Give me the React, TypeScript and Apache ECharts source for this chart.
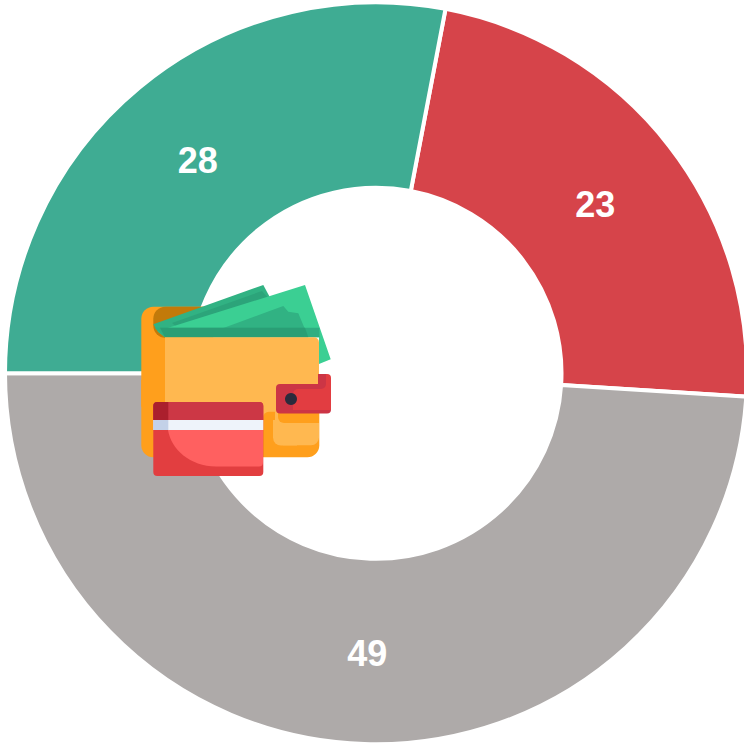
import React, { useEffect, useRef } from "react";
import * as echarts from "echarts";

const categories = ["Red", "Grey", "Green"];
const values = [23, 49, 28];
const colors = ["#D6444A", "#AEAAA9", "#3FAC93"];
const labelOffsets = [[-3, 4], [0, -1], [1, 4]];

echarts.graphic.registerShape(
  "cardLight",
  echarts.graphic.extendPath("M168 430 C171 449 190 466.5 216 466.5 L259 466.5 Q263 466.5 263 462 L263 430 Z", {})
);

const rect = (x: number, y: number, w: number, h: number, fill: string, r: any = 0) => ({
  type: "rect", z: 100, shape: { x, y, width: w, height: h, r }, style: { fill },
});
const poly = (points: number[][], fill: string) => ({
  type: "polygon", z: 100, shape: { points }, style: { fill },
});

const ORANGE = "#FF9F1C";
const YELLOW = "#FFB850";
const wallet = [
  rect(141.3, 306.7, 62, 100, ORANGE, [12, 0, 0, 0]),
  rect(141.3, 380, 178, 77.3, ORANGE, [0, 0, 12, 12]),
  rect(153.3, 306.7, 60, 31, "#C27A0A", [12, 0, 0, 12]),
  poly([[153.3, 324.3], [263.3, 285], [270, 297.5], [270, 337.3], [165, 337.3], [158, 332]], "#31B283"),
  poly([[172, 323], [262, 291], [268, 298], [178, 328]], "#2CA47A"),
  poly([[305, 285], [330.7, 359.3], [319, 364], [319, 337.3], [165, 337.3], [158, 331]], "#3BCF93"),
  poly([[198.3, 337.3], [283.3, 306], [288.3, 311.7], [298.3, 313.3], [308.3, 337.3]], "#31B283"),
  poly([[154.5, 327.7], [319.5, 327.7], [319.5, 337.3], [165, 337.3]], "#2FAE81"),
  poly([[160, 327.7], [305, 327.7], [308.3, 337.3], [165, 337.3]], "#2A9E75"),
  rect(165, 337.3, 154, 108, YELLOW, [0, 5, 8, 0]),
  rect(263, 411.7, 12, 34, ORANGE, [6, 0, 0, 0]),
  rect(263, 432, 20, 14, ORANGE),
  rect(273, 420, 24, 25.6, YELLOW, [0, 0, 0, 8]),
  rect(278, 405, 41, 18, ORANGE, [0, 0, 0, 6]),
  rect(276, 384, 55, 29.5, "#CC3545", 4),
  rect(318, 374, 13, 30, "#E23D41", [4, 4, 0, 0]),
  rect(293, 389, 38, 21, "#E23D41", [5, 0, 0, 0]),
  rect(318, 374, 8, 15, "#CC3545", [0, 0, 5, 0]),
  { type: "circle", z: 100, shape: { cx: 291, cy: 399, r: 6 }, style: { fill: "#2B2B3C" } },
  rect(153.3, 402, 110, 74, "#E23E40", 4),
  rect(153.3, 402, 110, 18, "#CC3745", [4, 4, 0, 0]),
  rect(153.3, 402, 15, 18, "#AB1F2D", [4, 0, 0, 0]),
  rect(153.3, 420, 110, 10, "#EEF3FA"),
  rect(153.3, 420, 15, 10, "#C3D1E8"),
  { type: "cardLight", z: 100, x: 0, y: 0, style: { fill: "#FF6060" } },
];

export default function App() {
  const ref = useRef<HTMLDivElement>(null);
  useEffect(() => {
    document.body.style.margin = "0";
    const chart = echarts.init(ref.current!, null, { renderer: "svg" });
    chart.setOption({
      animation: false,
      backgroundColor: "#ffffff",
      series: [
        {
          type: "pie",
          center: [376, 373.3],
          radius: [185.5, 371],
          startAngle: 79.2,
          clockwise: true,
          silent: true,
          data: categories.map((name, i) => ({
            name,
            value: values[i],
            itemStyle: { color: colors[i] },
            label: { offset: labelOffsets[i] },
          })),
          itemStyle: { borderColor: "#ffffff", borderWidth: 4 },
          label: {
            show: true,
            position: "inside",
            formatter: "{c}",
            color: "#ffffff",
            fontFamily: "Liberation Sans",
            fontWeight: "bold",
            fontSize: 36,
          },
          labelLine: { show: false },
        },
      ],
      graphic: wallet,
    });
    return () => chart.dispose();
  }, []);
  return <div ref={ref} style={{ width: 744, height: 744 }} />;
}
